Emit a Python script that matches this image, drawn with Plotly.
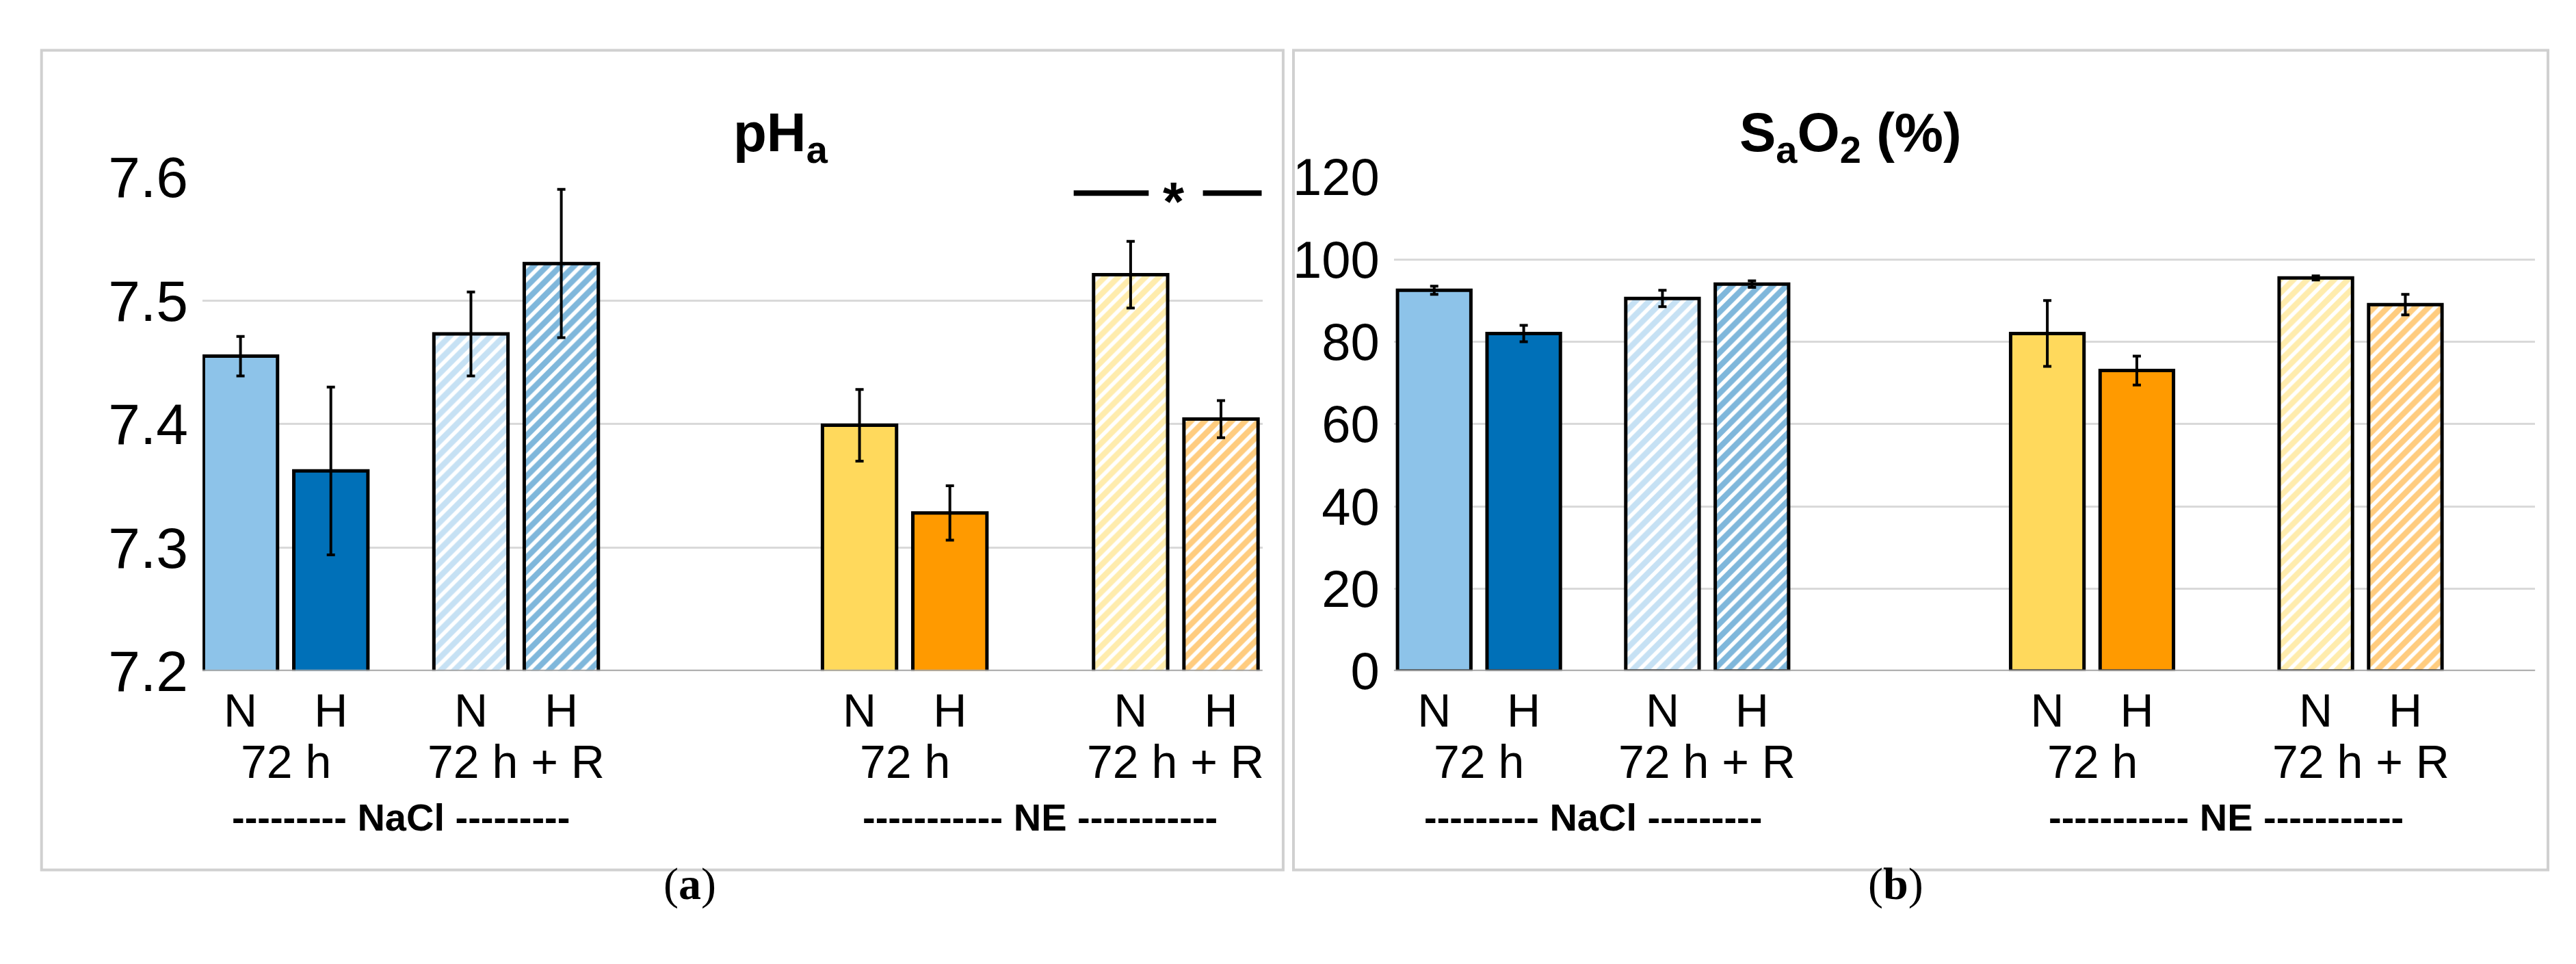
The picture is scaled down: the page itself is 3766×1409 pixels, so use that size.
import plotly.graph_objects as go

# Dados
x_pos = [0, 1, 2.55, 3.55, 6.85, 7.85, 9.85, 10.85]
tick_labels = ["N", "H", "N", "H", "N", "H", "N", "H"]
ph_vals = [7.455, 7.362, 7.473, 7.530, 7.399, 7.328, 7.521, 7.404]
ph_err = [0.016, 0.068, 0.034, 0.060, 0.029, 0.022, 0.027, 0.015]
sao2_vals = [92.5, 82.0, 90.5, 94.0, 82.0, 73.0, 95.5, 89.0]
sao2_err = [1.0, 2.0, 2.0, 0.8, 8.0, 3.5, 0.5, 2.5]
colors = ["#8DC3E9", "#0070B8", "#8DC3E9", "#0070B8", "#FFD95C", "#FF9A00", "#FFD95C", "#FF9A00"]
hatched = [False, False, True, True, False, False, True, True]
time_labels = ["72 h", "72 h + R", "72 h", "72 h + R"]
group_labels = ["--------- NaCl ---------", "----------- NE -----------"]

FONT = "Liberation Sans"
fig = go.Figure()


def add_bars(vals, errs, xa, ya):
    for xv, v, e, c, h in zip(x_pos, vals, errs, colors, hatched):
        pattern = dict(shape="/", fgcolor=c, bgcolor="white", size=14, solidity=0.6) if h else dict(shape="")
        fig.add_trace(go.Bar(
            x=[xv], y=[v], width=0.82, xaxis=xa, yaxis=ya, showlegend=False,
            marker=dict(color=c, line=dict(color="black", width=5), pattern=pattern),
            error_y=dict(type="data", array=[e], color="black", thickness=4, width=6),
        ))


add_bars(ph_vals, ph_err, "x", "y")
add_bars(sao2_vals, sao2_err, "x2", "y2")

axis_common = dict(tickvals=x_pos, ticktext=tick_labels, tickfont=dict(size=68, family=FONT, color="black"),
                   showgrid=False, zeroline=False, showline=False, ticks="", ticklabelstandoff=12)
fig.update_layout(
    width=3766, height=1409, margin=dict(l=0, r=0, t=0, b=0),
    paper_bgcolor="white", plot_bgcolor="white", barmode="overlay",
    xaxis=dict(domain=[0.0765, 0.488], range=[-0.42, 11.31], anchor="y", **axis_common),
    xaxis2=dict(domain=[0.539, 0.982], range=[-0.45, 12.3], anchor="y2", **axis_common),
    yaxis=dict(domain=[0.296, 0.845], range=[7.2, 7.6], dtick=0.1, tickformat=".1f",
               gridcolor="#D9D9D9", gridwidth=3, zeroline=False, ticklabelstandoff=20,
               tickfont=dict(size=84, family=FONT, color="black")),
    yaxis2=dict(domain=[0.296, 0.845], range=[0, 120], dtick=20, anchor="x2",
                gridcolor="#D9D9D9", gridwidth=3, zeroline=False, ticklabelstandoff=20,
                tickfont=dict(size=76, family=FONT, color="black")),
)

# linha de base
for xr, yr, y0 in [("x", "y", 7.2), ("x2", "y2", 0)]:
    fig.add_shape(type="line", xref=xr + " domain", yref=yr, x0=0, x1=1, y0=y0, y1=y0,
                  line=dict(color="#A6A6A6", width=4))

# rótulos de tempo e grupo
for xr in ["x", "x2"]:
    for i, t in enumerate(time_labels):
        xc = (x_pos[2 * i] + x_pos[2 * i + 1]) / 2
        fig.add_annotation(x=xc, y=0.165, xref=xr, yref="paper", text=t, showarrow=False,
                           font=dict(size=68, family=FONT, color="black"))
    for i, g in enumerate(group_labels):
        xc = (x_pos[4 * i] + x_pos[4 * i + 3]) / 2
        fig.add_annotation(x=xc, y=0.108, xref=xr, yref="paper", text="<b>" + g + "</b>", showarrow=False,
                           font=dict(size=56, family=FONT, color="black"))

# títulos
fig.add_annotation(x=0.282, y=0.93, xref="paper", yref="paper", showarrow=False,
                   text="<b>pH<sub>a</sub></b>", font=dict(size=80, family=FONT, color="black"))
fig.add_annotation(x=0.76, y=0.93, xref="paper", yref="paper", showarrow=False,
                   text="<b>S<sub>a</sub>O<sub>2</sub> (%)</b>", font=dict(size=80, family=FONT, color="black"))

# significância
xs = (x_pos[6] + x_pos[7]) / 2
fig.add_shape(type="line", xref="x", yref="y", x0=x_pos[6] - 0.63, x1=xs - 0.3, y0=7.587, y1=7.587,
              line=dict(color="black", width=8))
fig.add_shape(type="line", xref="x", yref="y", x0=xs + 0.3, x1=x_pos[7] + 0.45, y0=7.587, y1=7.587,
              line=dict(color="black", width=8))
fig.add_annotation(x=xs - 0.02, y=7.580, xref="x", yref="y", text="<b>*</b>", showarrow=False,
                   font=dict(size=80, family=FONT, color="black"))

# molduras dos painéis
fig.add_shape(type="rect", xref="paper", yref="paper", x0=0.014, x1=0.496, y0=0.075, y1=0.986,
              line=dict(color="#D0D0D0", width=4))
fig.add_shape(type="rect", xref="paper", yref="paper", x0=0.5, x1=0.987, y0=0.075, y1=0.986,
              line=dict(color="#D0D0D0", width=4))

# legendas (a) e (b)
for xc, lab in [(0.255, "a"), (0.745, "b")]:
    fig.add_annotation(x=xc, y=0.03, xref="paper", yref="paper", showarrow=False,
                       text="(<b>" + lab + "</b>)", font=dict(size=66, family="Liberation Serif", color="black"))

fig.write_html("out.html")
